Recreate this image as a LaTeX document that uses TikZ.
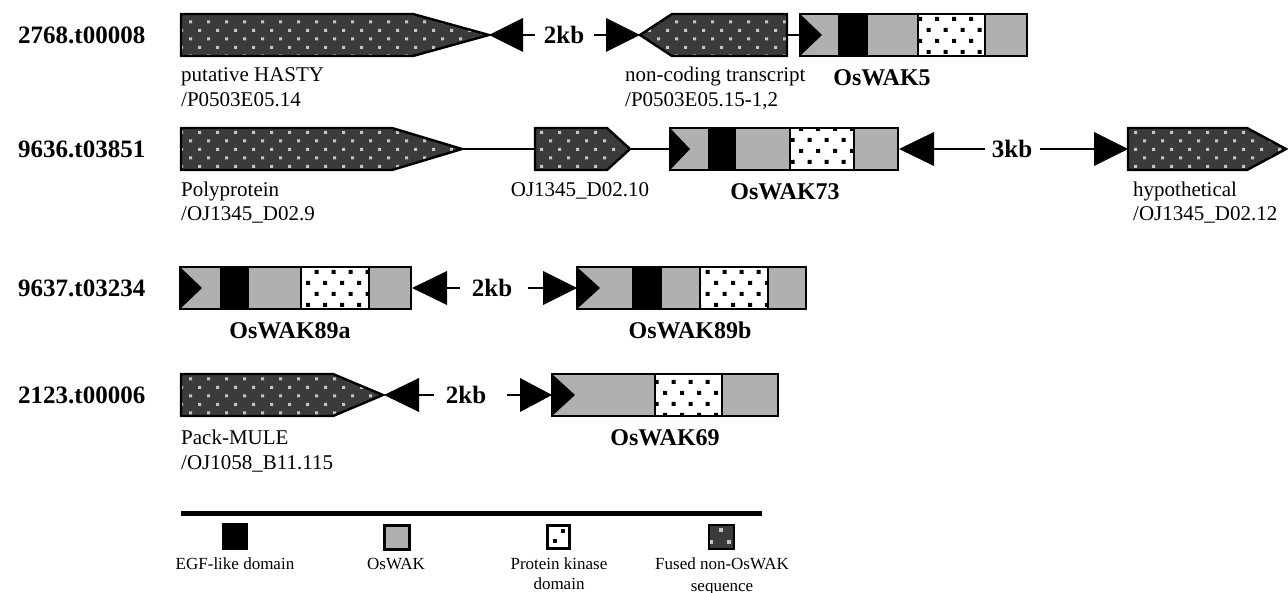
\documentclass[tikz,border=0pt]{standalone}
\usepackage{fontspec}
\setmainfont{Liberation Serif}
\usetikzlibrary{patterns}
\definecolor{fusedbg}{HTML}{3B3B3B}
\definecolor{fuseddot}{HTML}{C4C4C4}
\definecolor{wakgray}{HTML}{B0B0B0}
\pgfdeclarepatternformonly{fusedpat}{\pgfpoint{-1pt}{-1pt}}{\pgfpoint{19pt}{18pt}}{\pgfpoint{18pt}{17pt}}{%
  \pgfpathrectangle{\pgfpoint{0pt}{0pt}}{\pgfpoint{3pt}{3pt}}%
  \pgfpathrectangle{\pgfpoint{9pt}{8.5pt}}{\pgfpoint{3pt}{3pt}}%
  \pgfusepath{fill}}
\pgfdeclarepatternformonly{kinpat}{\pgfpoint{-1pt}{-1pt}}{\pgfpoint{18pt}{23pt}}{\pgfpoint{17pt}{22pt}}{%
  \pgfpathrectangle{\pgfpoint{0pt}{0pt}}{\pgfpoint{4.2pt}{4.2pt}}%
  \pgfpathrectangle{\pgfpoint{8.5pt}{11pt}}{\pgfpoint{4.2pt}{4.2pt}}%
  \pgfusepath{fill}}
\tikzset{
  fusedshape/.style={preaction={fill=fusedbg}, pattern=fusedpat, pattern color=fuseddot, draw=black, line width=2.4pt, line join=miter},
  kinasefill/.style={preaction={fill=white}, pattern=kinpat, pattern color=black},
  wakfill/.style={fill=wakgray},
  egffill/.style={fill=black},
  outline/.style={draw=black, line width=2.8pt},
  segline/.style={draw=black, line width=2.4pt},
  conn/.style={draw=black, line width=2pt},
  gaptip/.style={fill=black},
  genelabel/.style={font=\fontsize{21}{25}\selectfont, inner sep=0pt},
  genename/.style={font=\fontsize{24}{28}\selectfont\bfseries, inner sep=0pt},
  rowlabel/.style={font=\fontsize{25}{30}\selectfont\bfseries, inner sep=0pt},
  legendtext/.style={font=\fontsize{17}{20}\selectfont, inner sep=0pt},
}
\newcommand{\wakbox}[9]{% x0 x1 top bot tip egf0 egf1 kin0 kin1
  \fill[wakfill] (#1,#3) rectangle (#2,#4);
  \ifx&#6&\else\fill[egffill] (#6,#3) rectangle (#7,#4);\fi
  \path[kinasefill] (#8,#3) rectangle (#9,#4);
  \draw[segline] (#8,#3) -- (#8,#4) (#9,#3) -- (#9,#4);
  \fill[black] (#1,#3) -- (#5,{(#3+#4)/2}) -- (#1,#4) -- cycle;
  \draw[outline] (#1,#3) rectangle (#2,#4);
}
\begin{document}
\begin{tikzpicture}[x=1pt,y=-1pt]
\useasboundingbox (0,0) rectangle (1288,593);
% ---------- row labels
\node[rowlabel, anchor=base west] (l1) at (18,44) {2768.t00008};
\node[rowlabel, anchor=base west] (l2) at (18,158) {9636.t03851};
\node[rowlabel, anchor=base west] (l3) at (18,297) {9637.t03234};
\node[rowlabel, anchor=base west] (l4) at (18,404) {2123.t00006};
% ---------- row 1
\path[fusedshape] (181,14) -- (413,14) -- (489,35) -- (413,56) -- (181,56) -- cycle;
\fill[gaptip] (489,35) -- (523,18) -- (523,52) -- cycle;
\coordinate (r1a) at (523,35); \coordinate (r1b) at (535,35);
\draw[conn] (r1a) -- (r1b);
\node[rowlabel, anchor=base] (kb1) at (564,44) {2kb};
\coordinate (r1c) at (594,35); \coordinate (r1d) at (606,35);
\draw[conn] (r1c) -- (r1d);
\fill[gaptip] (640,35) -- (606,18) -- (606,52) -- cycle;
\path[fusedshape] (640,35) -- (672,14) -- (787,14) -- (787,56) -- (672,56) -- cycle;
\coordinate (r1e) at (787,35); \coordinate (r1f) at (800,35);
\draw[conn] (r1e) -- (r1f);
\wakbox{800}{1027}{14}{56}{822}{838}{868}{918}{985}
\node[genelabel, anchor=base west] (t1a) at (181,82) {putative HASTY};
\node[genelabel, anchor=base west] (t1b) at (181,107) {/P0503E05.14};
\node[genelabel, anchor=base west] (t1c) at (625,82) {non-coding transcript};
\node[genelabel, anchor=base west] (t1d) at (625,107) {/P0503E05.15-1,2};
\node[genename, anchor=base] (g5) at (882,86) {OsWAK5};
% ---------- row 2
\path[fusedshape] (181,128) -- (392,128) -- (462,149) -- (392,170) -- (181,170) -- cycle;
\coordinate (r2a) at (462,149); \coordinate (r2b) at (535,149);
\draw[conn] (r2a) -- (r2b);
\path[fusedshape] (535,128) -- (607,128) -- (630,149) -- (607,170) -- (535,170) -- cycle;
\coordinate (r2c) at (630,149); \coordinate (r2d) at (670,149);
\draw[conn] (r2c) -- (r2d);
\wakbox{670}{898}{128}{170}{690}{708}{736}{790}{854}
\fill[gaptip] (899,149) -- (934,132) -- (934,166) -- cycle;
\coordinate (r2e) at (934,149); \coordinate (r2f) at (985,149);
\draw[conn] (r2e) -- (r2f);
\node[rowlabel, anchor=base] (kb2) at (1012,158) {3kb};
\coordinate (r2g) at (1040,149); \coordinate (r2h) at (1094,149);
\draw[conn] (r2g) -- (r2h);
\fill[gaptip] (1128,149) -- (1094,132) -- (1094,166) -- cycle;
\path[fusedshape] (1128,128) -- (1247,128) -- (1286,149) -- (1247,170) -- (1128,170) -- cycle;
\node[genelabel, anchor=base west] (t2a) at (181,197) {Polyprotein};
\node[genelabel, anchor=base west] (t2b) at (181,221) {/OJ1345\_D02.9};
\node[genelabel, anchor=base] (t2c) at (580,197) {OJ1345\_D02.10};
\node[genename, anchor=base] (g73) at (785,200) {OsWAK73};
\node[genelabel, anchor=base west] (t2d) at (1133,197) {hypothetical};
\node[genelabel, anchor=base west] (t2e) at (1133,221) {/OJ1345\_D02.12};
% ---------- row 3
\wakbox{180}{411}{267}{309}{202}{220}{249}{301}{369}
\fill[gaptip] (412,288) -- (447,271) -- (447,305) -- cycle;
\coordinate (r3a) at (447,288); \coordinate (r3b) at (460,288);
\draw[conn] (r3a) -- (r3b);
\node[rowlabel, anchor=base] (kb3) at (492,297) {2kb};
\coordinate (r3c) at (528,288); \coordinate (r3d) at (543,288);
\draw[conn] (r3c) -- (r3d);
\fill[gaptip] (577,288) -- (543,271) -- (543,305) -- cycle;
\wakbox{577}{806}{267}{309}{600}{632}{662}{700}{768}
\node[genename, anchor=base] (g89a) at (290,339) {OsWAK89a};
\node[genename, anchor=base] (g89b) at (690,339) {OsWAK89b};
% ---------- row 4
\path[fusedshape] (181,374) -- (333,374) -- (383,395) -- (333,416) -- (181,416) -- cycle;
\fill[gaptip] (384,395) -- (419,378) -- (419,412) -- cycle;
\coordinate (r4a) at (419,395); \coordinate (r4b) at (434,395);
\draw[conn] (r4a) -- (r4b);
\node[rowlabel, anchor=base] (kb4) at (466,404) {2kb};
\coordinate (r4c) at (507,395); \coordinate (r4d) at (520,395);
\draw[conn] (r4c) -- (r4d);
\fill[gaptip] (552,395) -- (520,378) -- (520,412) -- cycle;
\wakbox{552}{778}{374}{416}{575}{}{}{655}{722}
\node[genelabel, anchor=base west] (t4a) at (181,445) {Pack-MULE};
\node[genelabel, anchor=base west] (t4b) at (181,469) {/OJ1058\_B11.115};
\node[genename, anchor=base] (g69) at (665,446) {OsWAK69};
% ---------- legend
\coordinate (lgA) at (181,513); \coordinate (lgB) at (762,513);
\draw[black, line width=5pt] (lgA) -- (lgB);
\fill[black] (222,523) rectangle (248,550);
\fill[wakgray, draw=black, line width=3pt] (384,525) rectangle (409,549);
\draw[black, line width=3pt, fill=white] (547,525) rectangle (569,548);
\fill[black] (561,529) rectangle (565,533);
\fill[black] (553,539) rectangle (557,543);
\draw[black, line width=2.5pt, fill=fusedbg] (709,525) rectangle (734,549);
\fill[fuseddot] (719,528) rectangle (723,532);
\fill[fuseddot] (710,540) rectangle (713,544);
\fill[fuseddot] (727,540) rectangle (731,544);
\node[legendtext, anchor=base] (lg1) at (235,569) {EGF-like domain};
\node[legendtext, anchor=base] (lg2) at (396,569) {OsWAK};
\node[legendtext, anchor=base] (lg3) at (559,569) {Protein kinase};
\node[legendtext, anchor=base] (lg3b) at (559,589) {domain};
\node[legendtext, anchor=base] (lg4) at (722,569) {Fused non-OsWAK};
\node[legendtext, anchor=base] (lg4b) at (722,591) {sequence};
\end{tikzpicture}
\end{document}
